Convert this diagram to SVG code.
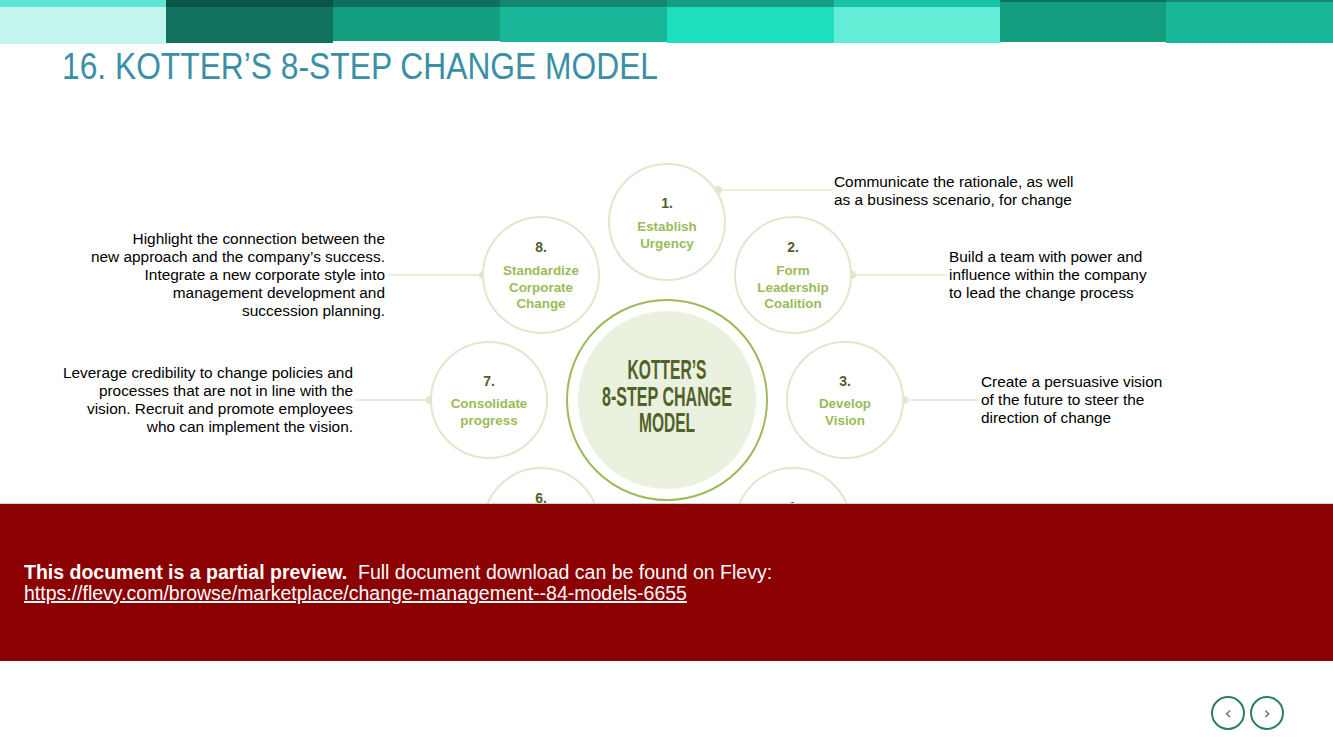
<svg xmlns="http://www.w3.org/2000/svg" width="1333" height="750" viewBox="0 0 1333 750">
<style>
.title{font-family:"Liberation Sans",Arial,sans-serif;font-size:36px;fill:#3a8fa6}
.ring{fill:#fff;stroke:#dfe8cc;stroke-width:2}
.num{font-family:"Liberation Sans",Arial,sans-serif;font-size:14px;font-weight:bold;fill:#4f6228;text-anchor:middle}
.lab{font-family:"Liberation Sans",Arial,sans-serif;font-size:13.4px;font-weight:bold;fill:#9bbb59;text-anchor:middle}
.desc{font-family:"Liberation Sans",Arial,sans-serif;font-size:15.4px;fill:#000}
.r{text-anchor:end}
.conn line{stroke:#dfe8cc;stroke-width:1.5}
.conn circle{fill:#dfe8cc}
.ctr{font-family:"Liberation Sans",Arial,sans-serif;font-size:28px;font-weight:bold;fill:#4f6228;text-anchor:middle}
.ban{font-family:"Liberation Sans",Arial,sans-serif;font-size:19.5px;fill:#fff}
.nav{fill:#fff;stroke:#2d7d68;stroke-width:2}
.navt{font-family:"DejaVu Sans",sans-serif;font-size:18px;fill:#666;text-anchor:middle}
</style>
<rect width="1333" height="750" fill="#fff"/>
<g id="header">
<rect x="0" y="0" width="167" height="7" fill="#5ee8d3"/>
<rect x="0" y="7" width="167" height="37" fill="#c2f5ee"/>
<rect x="166" y="0" width="167" height="7" fill="#0b5548"/>
<rect x="166" y="7" width="167" height="36" fill="#117260"/>
<rect x="333" y="0" width="167" height="7" fill="#0f6f5f"/>
<rect x="333" y="7" width="167" height="34" fill="#149e80"/>
<rect x="500" y="0" width="167" height="7" fill="#138570"/>
<rect x="500" y="7" width="167" height="35" fill="#19b79a"/>
<rect x="667" y="0" width="167" height="7" fill="#169e83"/>
<rect x="667" y="7" width="167" height="36" fill="#1edfbd"/>
<rect x="834" y="0" width="167" height="7" fill="#18c4a5"/>
<rect x="834" y="7" width="167" height="36" fill="#63ecd6"/>
<rect x="1000" y="0" width="167" height="2" fill="#0f6f5f"/>
<rect x="1000" y="2" width="167" height="40" fill="#149e80"/>
<rect x="1166" y="0" width="167" height="2" fill="#138570"/>
<rect x="1166" y="2" width="167" height="41" fill="#19b79a"/>
</g>
<text class="title" x="62" y="79" textLength="596" lengthAdjust="spacingAndGlyphs">16. KOTTER’S 8-STEP CHANGE MODEL</text>
<g id="connectors" class="conn">
<line x1="718" y1="190" x2="832" y2="190"/><circle cx="718" cy="190" r="4"/>
<line x1="852" y1="275" x2="946" y2="275"/><circle cx="852" cy="275" r="4"/>
<line x1="904" y1="400" x2="978" y2="400"/><circle cx="904" cy="400" r="4"/>
<line x1="388" y1="275" x2="483" y2="275"/><circle cx="483" cy="275" r="4"/>
<line x1="355" y1="400" x2="430" y2="400"/><circle cx="430" cy="400" r="4"/>
</g>
<g id="center">
<circle cx="667" cy="400" r="100" fill="#fff" stroke="#9bbb59" stroke-width="2"/>
<circle cx="667" cy="400" r="89" fill="#eaf1de"/>
<text class="ctr" x="667" y="379" textLength="79" lengthAdjust="spacingAndGlyphs">KOTTER’S</text>
<text class="ctr" x="667" y="406" textLength="130" lengthAdjust="spacingAndGlyphs">8-STEP CHANGE</text>
<text class="ctr" x="667" y="432" textLength="56" lengthAdjust="spacingAndGlyphs">MODEL</text>
</g>
<g id="step1">
<circle class="ring" cx="667" cy="222" r="58"/>
<text class="num" x="667" y="208">1.</text>
<text class="lab" x="667" y="231">Establish</text>
<text class="lab" x="667" y="248">Urgency</text>
<text class="desc" x="834" y="187">Communicate the rationale, as well</text>
<text class="desc" x="834" y="205">as a business scenario, for change</text>
</g>
<g id="step2">
<circle class="ring" cx="793" cy="275" r="58"/>
<text class="num" x="793" y="252">2.</text>
<text class="lab" x="793" y="275">Form</text>
<text class="lab" x="793" y="292">Leadership</text>
<text class="lab" x="793" y="308">Coalition</text>
<text class="desc" x="949" y="262">Build a team with power and</text>
<text class="desc" x="949" y="280">influence within the company</text>
<text class="desc" x="949" y="298">to lead the change process</text>
</g>
<g id="step3">
<circle class="ring" cx="845" cy="400" r="58"/>
<text class="num" x="845" y="386">3.</text>
<text class="lab" x="845" y="408">Develop</text>
<text class="lab" x="845" y="425">Vision</text>
<text class="desc" x="981" y="387">Create a persuasive vision</text>
<text class="desc" x="981" y="405">of the future to steer the</text>
<text class="desc" x="981" y="423">direction of change</text>
</g>
<g id="step4">
<circle class="ring" cx="793" cy="526" r="58"/>
<text class="num" x="793" y="512">4.</text>
</g>
<g id="step5">
<circle class="ring" cx="667" cy="578" r="58"/>
</g>
<g id="step6">
<circle class="ring" cx="541" cy="526" r="58"/>
<text class="num" x="541" y="503">6.</text>
</g>
<g id="step7">
<circle class="ring" cx="489" cy="400" r="58"/>
<text class="num" x="489" y="386">7.</text>
<text class="lab" x="489" y="408">Consolidate</text>
<text class="lab" x="489" y="425">progress</text>
<text class="desc r" x="353" y="378">Leverage credibility to change policies and</text>
<text class="desc r" x="353" y="396">processes that are not in line with the</text>
<text class="desc r" x="353" y="414">vision. Recruit and promote employees</text>
<text class="desc r" x="353" y="432">who can implement the vision.</text>
</g>
<g id="step8">
<circle class="ring" cx="541" cy="275" r="58"/>
<text class="num" x="541" y="252">8.</text>
<text class="lab" x="541" y="275">Standardize</text>
<text class="lab" x="541" y="292">Corporate</text>
<text class="lab" x="541" y="308">Change</text>
<text class="desc r" x="385" y="244">Highlight the connection between the</text>
<text class="desc r" x="385" y="262">new approach and the company’s success.</text>
<text class="desc r" x="385" y="280">Integrate a new corporate style into</text>
<text class="desc r" x="385" y="298">management development and</text>
<text class="desc r" x="385" y="316">succession planning.</text>
</g>
<g id="preview-banner">
<rect x="0" y="503" width="1333" height="158" fill="#8b0000"/>
<line x1="0" y1="503.5" x2="1333" y2="503.5" stroke="#cfcfcf" stroke-width="1"/>
<text class="ban" x="24" y="579"><tspan font-weight="bold">This document is a partial preview.</tspan><tspan x="358">Full document download can be found on Flevy:</tspan></text>
<text class="ban" x="24" y="600" text-decoration="underline">https://flevy.com/browse/marketplace/change-management--84-models-6655</text>
</g>
<g id="nav-prev">
<circle class="nav" cx="1228" cy="713" r="16"/>
<text class="navt" x="1228" y="719">‹</text>
</g>
<g id="nav-next">
<circle class="nav" cx="1267" cy="713" r="16"/>
<text class="navt" x="1267" y="719">›</text>
</g>
</svg>
